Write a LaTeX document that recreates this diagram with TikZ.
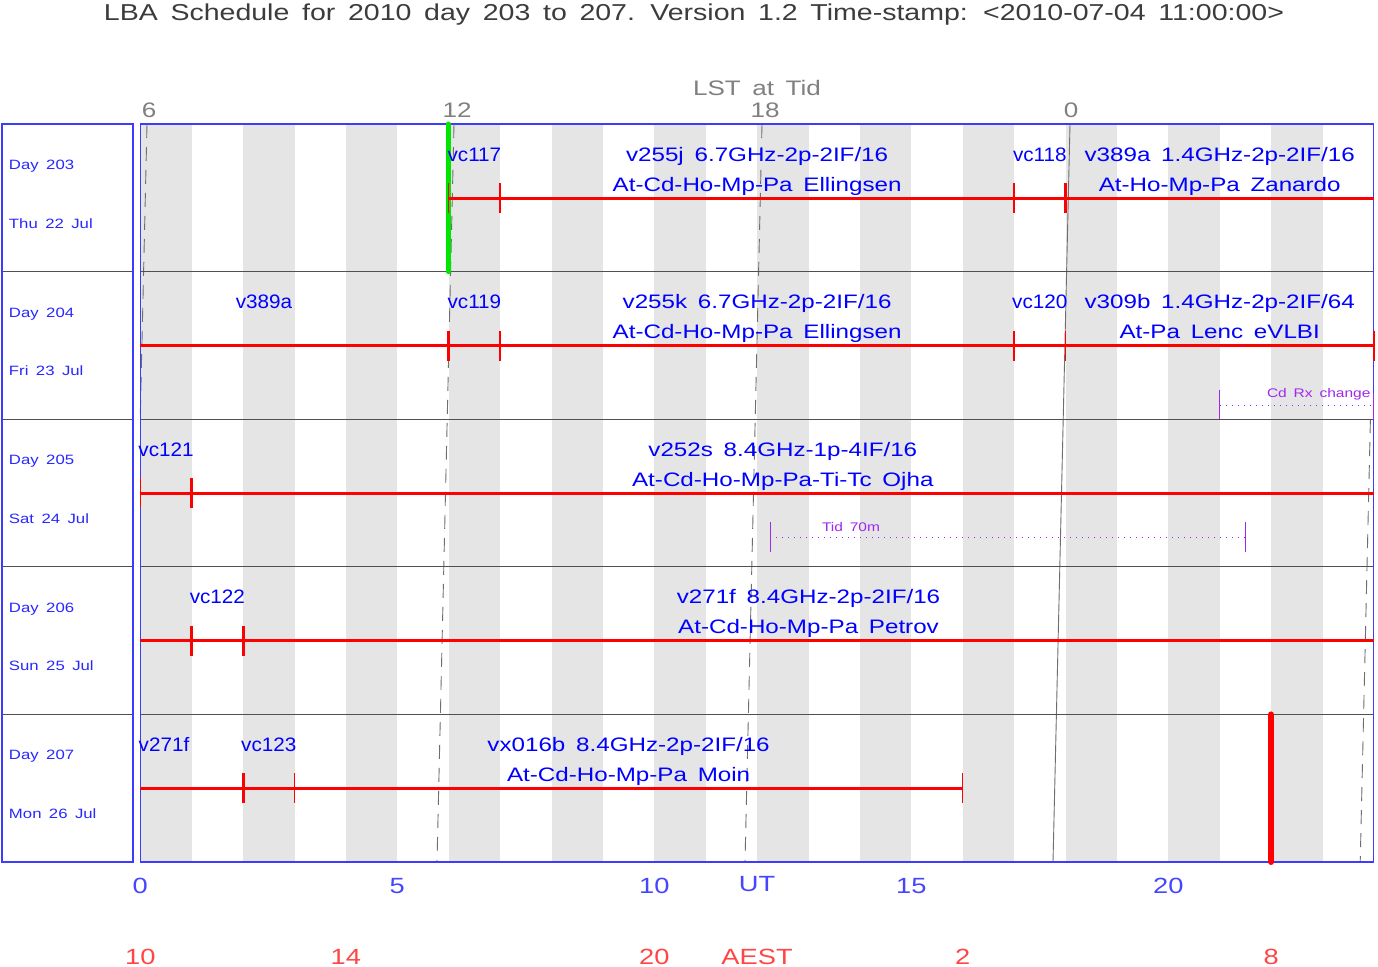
\documentclass[tikz,border=0pt]{standalone}
\usepackage{fontspec}
\setmainfont{Liberation Sans}[FakeStretch=1.24,WordSpace=1.6]
\newfontfamily\narrowfam{Liberation Sans}[FakeStretch=1.06]
\newcommand\fsz[1]{\fontsize{#1}{#1}\selectfont}
\definecolor{sblue}{RGB}{0,0,255}
\definecolor{dblue}{RGB}{40,40,255}
\definecolor{ublue}{RGB}{70,70,255}
\definecolor{ared}{RGB}{255,70,70}
\definecolor{barred}{RGB}{255,0,0}
\definecolor{stripegray}{RGB}{229,229,229}
\definecolor{lstgray}{RGB}{110,110,110}
\definecolor{lstlbl}{RGB}{128,128,128}
\definecolor{divgray}{RGB}{80,80,80}
\definecolor{frameblue}{RGB}{60,60,255}
\definecolor{purp}{RGB}{160,40,240}
\definecolor{tgreen}{RGB}{0,230,0}
\definecolor{titlegray}{RGB}{60,60,60}
\begin{document}
\begin{tikzpicture}[x=1pt,y=-1pt,
  every node/.style={inner sep=0pt,outer sep=0pt},
  lbl/.style={anchor=base,text=sblue,font=\fsz{19.5}},
  shortlbl/.style={anchor=base,text=sblue,font=\narrowfam\fsz{19.5}},
  daylbl/.style={anchor=base west,text=dblue,font=\fsz{13.5}},
  utlbl/.style={anchor=base,text=ublue,font=\fsz{22}},
  aestlbl/.style={anchor=base,text=ared,font=\fsz{22}},
  lstlabel/.style={anchor=base,text=lstlbl,font=\fsz{21}},
  purplbl/.style={anchor=base west,text=purp,font=\fsz{12.5}},
  schedbar/.style={draw=barred,line width=3pt},
  thktick/.style={draw=barred,line width=3pt},
  thntick/.style={draw=barred,line width=1.5pt},
  lstline/.style={draw=lstgray,line width=0.9pt,dash pattern=on 14pt off 9pt},
  lstsolid/.style={draw=lstgray,line width=0.9pt},
  stripe/.style={fill=stripegray},
  divider/.style={draw=divgray,line width=1.1pt},
  frame/.style={draw=frameblue,line width=1.1pt},
  purpline/.style={draw=purp,line width=0.8pt,dash pattern=on 1.2pt off 4.8pt},
  purptick/.style={draw=purp,line width=0.8pt}
]
\useasboundingbox (0,0) rectangle (1378,966);
\fill[white] (0,0) rectangle (1378,966);

% title
\node[anchor=base,text=titlegray,font=\fsz{23}] (title) at (694,21) {LBA Schedule for 2010 day 203 to 207. Version 1.2 Time-stamp: <2010-07-04 11:00:00>};

% stripes
\foreach \h in {0,2,...,22}
  \fill[stripe] ({140.3+51.4*\h},124) rectangle ({140.3+51.4*(\h+1)},862);

% LST lines
\draw[lstline] (147,124) -- (140.3,414.9);
\draw[lstline] (1370.4,419.2) -- (1360.2,862);
\draw[lstline] (454,124) -- (437,862);
\draw[lstline] (762,124) -- (745,862);
\draw[lstsolid] (1070,124) -- (1053,862);

% row dividers
\foreach \yy in {271.6,419.2,566.8,714.4} {
  \draw[divider] (2,\yy) -- (133,\yy);
  \draw[divider] (140.3,\yy) -- (1373.9,\yy);
}
% frames
\draw[frame] (2,124) rectangle (133,862);
\draw[frame] (140.3,124) rectangle (1373.9,862);

% green now-line
\draw[draw=tgreen,line width=5pt,line cap=round] (448,124) -- (448,271.6);

% ---- Row 203 (top 124) ----
\draw[schedbar] ({140.3+51.4*6},198) -- (1373.9,198);
\foreach \h in {6,7,17} \draw[thntick] ({140.3+51.4*\h},183) -- ({140.3+51.4*\h},213);
\draw[thktick] ({140.3+51.4*18},183) -- ({140.3+51.4*18},213);
\node[shortlbl] (vc117) at ({140.3+51.4*6.5},161) {vc117};
\node[lbl] (v255j) at ({140.3+51.4*12},161) {v255j 6.7GHz-2p-2IF/16};
\node[lbl] (v255jst) at ({140.3+51.4*12},191) {At-Cd-Ho-Mp-Pa Ellingsen};
\node[shortlbl] (vc118) at ({140.3+51.4*17.5},161) {vc118};
\node[lbl] (v389a) at ({140.3+51.4*21},161) {v389a 1.4GHz-2p-2IF/16};
\node[lbl] (v389ast) at ({140.3+51.4*21},191) {At-Ho-Mp-Pa Zanardo};

% ---- Row 204 (top 271.6) ----
\draw[schedbar] (140.3,345.6) -- (1373.9,345.6);
\draw[thktick] ({140.3+51.4*6},330.6) -- ({140.3+51.4*6},360.6);
\foreach \h in {7,17,18,24} \draw[thntick] ({140.3+51.4*\h},330.6) -- ({140.3+51.4*\h},360.6);
\node[shortlbl] (v389b) at (264,308.6) {v389a};
\node[shortlbl] (vc119) at ({140.3+51.4*6.5},308.6) {vc119};
\node[lbl] (v255k) at ({140.3+51.4*12},308.6) {v255k 6.7GHz-2p-2IF/16};
\node[lbl] (v255kst) at ({140.3+51.4*12},338.6) {At-Cd-Ho-Mp-Pa Ellingsen};
\node[shortlbl] (vc120) at ({140.3+51.4*17.5},308.6) {vc120};
\node[lbl] (v309b) at ({140.3+51.4*21},308.6) {v309b 1.4GHz-2p-2IF/64};
\node[lbl] (v309bst) at ({140.3+51.4*21},338.6) {At-Pa Lenc eVLBI};
\node[purplbl] (cdrx) at (1267,397) {Cd Rx change};
\coordinate (cdrxa) at ({140.3+51.4*21},405);
\coordinate (cdrxb) at (1373,405);
\draw[purpline] (cdrxa) -- (cdrxb);
\draw[purptick] ({140.3+51.4*21},390) -- ({140.3+51.4*21},419);
\draw[purptick] (1373,393) -- (1373,419);

% ---- Row 205 (top 419.2) ----
\draw[schedbar] (140.3,493.2) -- (1373.9,493.2);
\draw[thntick] (140.3,478.2) -- (140.3,508.2);
\draw[thktick] ({140.3+51.4*1},478.2) -- ({140.3+51.4*1},508.2);
\node[shortlbl] (vc121) at ({140.3+51.4*0.5},456.2) {vc121};
\node[lbl] (v252s) at ({140.3+51.4*12.5},456.2) {v252s 8.4GHz-1p-4IF/16};
\node[lbl] (v252sst) at ({140.3+51.4*12.5},486.2) {At-Cd-Ho-Mp-Pa-Ti-Tc Ojha};
\node[purplbl] (tid) at (822,531) {Tid 70m};
\coordinate (tida) at (770,537);
\coordinate (tidb) at (1245,537);
\draw[purpline] (tida) -- (tidb);
\draw[purptick] (770,522) -- (770,552);
\draw[purptick] (1245,522) -- (1245,552);

% ---- Row 206 (top 566.8) ----
\draw[schedbar] (140.3,640.8) -- (1373.9,640.8);
\foreach \h in {1,2} \draw[thktick] ({140.3+51.4*\h},625.8) -- ({140.3+51.4*\h},655.8);
\node[shortlbl] (vc122) at ({140.3+51.4*1.5},603.8) {vc122};
\node[lbl] (v271f) at ({140.3+51.4*13},603.8) {v271f 8.4GHz-2p-2IF/16};
\node[lbl] (v271fst) at ({140.3+51.4*13},633.8) {At-Cd-Ho-Mp-Pa Petrov};

% ---- Row 207 (top 714.4) ----
\draw[schedbar] (140.3,788.4) -- ({140.3+51.4*16},788.4);
\draw[thktick] ({140.3+51.4*2},773.4) -- ({140.3+51.4*2},803.4);
\foreach \h in {3,16} \draw[thntick] ({140.3+51.4*\h},773.4) -- ({140.3+51.4*\h},803.4);
\node[shortlbl] (v271fb) at (164,751.4) {v271f};
\node[shortlbl] (vc123) at ({140.3+51.4*2.5},751.4) {vc123};
\node[lbl] (vx016b) at ({140.3+51.4*9.5},751.4) {vx016b 8.4GHz-2p-2IF/16};
\node[lbl] (vx016bst) at ({140.3+51.4*9.5},781.4) {At-Cd-Ho-Mp-Pa Moin};
\draw[draw=barred,line width=6pt,line cap=round] ({140.3+51.4*22},714.4) -- ({140.3+51.4*22},862);

% day labels
\node[daylbl] (d203) at (9,169.5) {Day 203};
\node[daylbl] (t203) at (9,228) {Thu 22 Jul};
\node[daylbl] (d204) at (9,317.1) {Day 204};
\node[daylbl] (t204) at (9,375.6) {Fri 23 Jul};
\node[daylbl] (d205) at (9,464.7) {Day 205};
\node[daylbl] (t205) at (9,523.2) {Sat 24 Jul};
\node[daylbl] (d206) at (9,612.3) {Day 206};
\node[daylbl] (t206) at (9,670.8) {Sun 25 Jul};
\node[daylbl] (d207) at (9,759.9) {Day 207};
\node[daylbl] (t207) at (9,818.4) {Mon 26 Jul};

% LST labels
\node[lstlabel] (lsttitle) at (757,95) {LST at Tid};
\node[lstlabel] (lst6) at (149,117) {6};
\node[lstlabel] (lst12) at (457,117) {12};
\node[lstlabel] (lst18) at (765,117) {18};
\node[lstlabel] (lst0) at (1071,117) {0};

% UT axis
\node[utlbl] (ut0) at (140.3,893) {0};
\node[utlbl] (ut5) at ({140.3+51.4*5},893) {5};
\node[utlbl] (ut10) at ({140.3+51.4*10},893) {10};
\node[utlbl] (utname) at ({140.3+51.4*12},891) {UT};
\node[utlbl] (ut15) at ({140.3+51.4*15},893) {15};
\node[utlbl] (ut20) at ({140.3+51.4*20},893) {20};

% AEST axis
\node[aestlbl] (ae10) at (140.3,964) {10};
\node[aestlbl] (ae14) at ({140.3+51.4*4},964) {14};
\node[aestlbl] (ae20) at ({140.3+51.4*10},964) {20};
\node[aestlbl] (aename) at ({140.3+51.4*12},964) {AEST};
\node[aestlbl] (ae2) at ({140.3+51.4*16},964) {2};
\node[aestlbl] (ae8) at ({140.3+51.4*22},964) {8};
\end{tikzpicture}
\end{document}
